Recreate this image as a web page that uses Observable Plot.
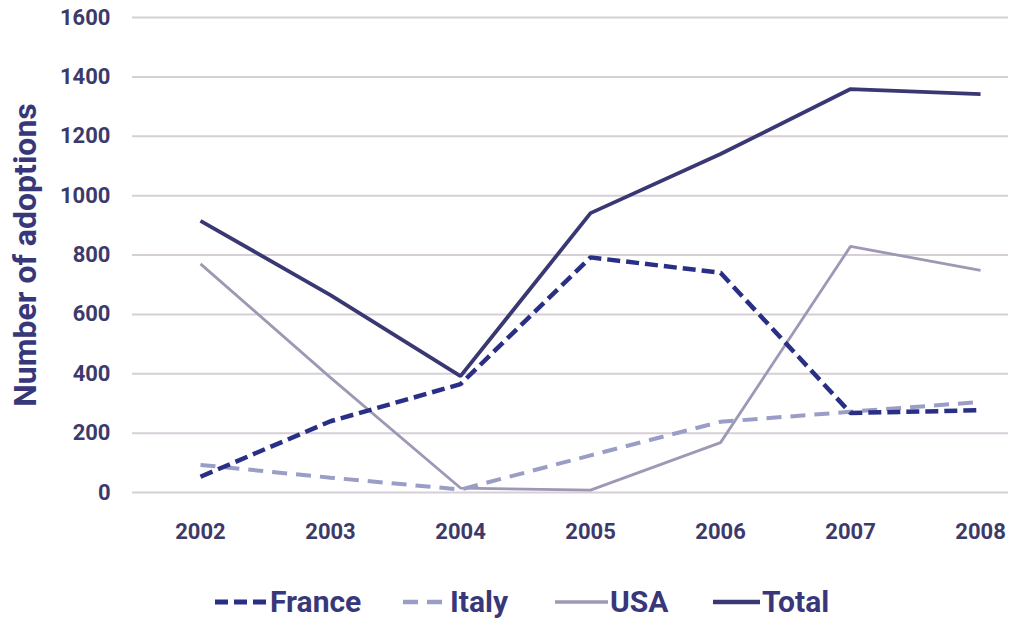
<!DOCTYPE html>
<html><head><meta charset="utf-8">
<script src="https://cdn.jsdelivr.net/npm/d3@7"></script>
<script src="https://cdn.jsdelivr.net/npm/@observablehq/plot@0.6"></script>
<style>
body{margin:0;background:#fff;font-family:Roboto,sans-serif;}
#wrap{position:relative;width:1012px;height:621px;}
#legend{position:absolute;left:0;top:560px;width:1012px;height:61px;}
.item{position:absolute;top:22px;display:flex;align-items:center;height:40px;}
.item span{font-family:Roboto,sans-serif;font-weight:bold;font-size:30px;color:#38377a;margin-left:2px;line-height:40px;}
</style></head><body>
<div id="wrap"><div id="chart"></div><div id="legend"></div></div>
<script>
const years = [2002, 2003, 2004, 2005, 2006, 2007, 2008];
const france = [53, 240, 365, 792, 740, 268, 277];
const italy  = [93, 50, 10, 125, 238, 272, 305];
const usa    = [770, 387, 15, 8, 168, 829, 748];
const total  = [915, 665, 392, 941, 1140, 1359, 1342];
const seriesNames = ["France", "Italy", "USA", "Total"];
const yTicks = [0, 200, 400, 600, 800, 1000, 1200, 1400, 1600];
const yLabel = "Number of adoptions";

const styles = {
  France: {stroke: "#2a2f86", strokeWidth: 4.5, strokeDasharray: "13,6"},
  Italy:  {stroke: "#9a9dc6", strokeWidth: 4, strokeDasharray: "15,9"},
  USA:    {stroke: "#9e98b4", strokeWidth: 2.8},
  Total:  {stroke: "#393873", strokeWidth: 3.8}
};
const values = {France: france, Italy: italy, USA: usa, Total: total};
const data = seriesNames.flatMap(s => years.map((yr, j) => ({series: s, year: yr, value: values[s][j]})));
const drawOrder = ["USA", "Italy", "France", "Total"];

const plot = Plot.plot({
  width: 1012, height: 560,
  marginTop: 17, marginBottom: 68, marginLeft: 132, marginRight: 4,
  style: {fontFamily: "Roboto, sans-serif", background: "#fff"},
  x: {type: "linear", domain: [2001.477, 2008.215]},
  y: {domain: [0, 1600]},
  marks: [
    Plot.gridY(yTicks, {stroke: "#d6cfd6", strokeOpacity: 1, strokeWidth: 2}),
    Plot.axisX(years, {tickSize: 0, tickPadding: 31, tickFormat: d => String(d), fontSize: 22, fontWeight: "bold", fill: "#3c3a6a", label: null}),
    Plot.axisY(yTicks, {tickSize: 0, tickPadding: 22, tickFormat: d => String(d), fontSize: 22, fontWeight: "bold", fill: "#3c3a6a", label: null}),
    Plot.text([yLabel], {frameAnchor: "left", text: d => d, rotate: -90, dx: -107, textAnchor: "middle", lineAnchor: "middle", fontSize: 32, fontWeight: "bold", fill: "#38377a"}),
    ...drawOrder.map(s => Plot.line(data.filter(d => d.series === s), {x: "year", y: "value", ...styles[s], strokeLinejoin: "miter", strokeLinecap: "butt"}))
  ]
});
document.getElementById("chart").appendChild(plot);

const legendPos = {France: [215, 53], Italy: [403, 45], USA: [555, 53], Total: [713, 47]};
const legend = document.getElementById("legend");
for (const s of seriesNames) {
  const [left, w] = legendPos[s];
  const st = styles[s];
  const item = document.createElement("div");
  item.className = "item";
  item.style.left = left + "px";
  item.innerHTML = `<svg width="${w}" height="20"><line x1="0" x2="${w}" y1="10" y2="10" stroke="${st.stroke}" stroke-width="${st.strokeWidth + 0.5}" ${st.strokeDasharray ? `stroke-dasharray="${st.strokeDasharray}"` : ""}/></svg><span>${s}</span>`;
  legend.appendChild(item);
}
</script>
</body></html>
